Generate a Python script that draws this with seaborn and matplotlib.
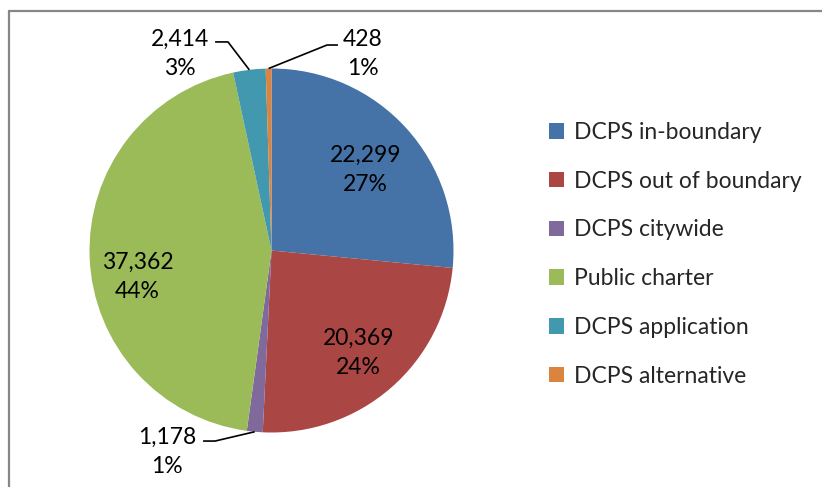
import matplotlib
matplotlib.use("Agg")
import matplotlib.pyplot as plt
from matplotlib.lines import Line2D
from matplotlib.patches import Patch
import numpy as np
import seaborn as sns

# ---- data ----
categories = ["DCPS in-boundary", "DCPS out of boundary", "DCPS citywide",
              "Public charter", "DCPS application", "DCPS alternative"]
values = [22299, 20369, 1178, 37362, 2414, 428]
pct_labels = ["27%", "24%", "1%", "44%", "3%", "1%"]
colors = ["#4572A7", "#AA4643", "#80699B", "#9BBB59", "#4198AF", "#DB843D"]

sns.set_theme(style="white")
plt.rcParams["font.family"] = ["Lato", "DejaVu Sans"]

W, H = 822, 487
fig = plt.figure(figsize=(W / 100, H / 100), dpi=100)
cx, cy, R = 271.5, 250.5, 182
ax = fig.add_axes([(cx - R) / W, (H - cy - R) / H, 2 * R / W, 2 * R / H])

palette = sns.color_palette(colors)
wedges, _ = ax.pie(values, colors=palette, startangle=90, counterclock=False,
                   radius=1.0, wedgeprops=dict(linewidth=0))
ax.set_xlim(-1, 1)
ax.set_ylim(-1, 1)
ax.set_aspect("equal")
ax.axis("off")

FS = 16.5
LS = 1.45
def num(v):
    return f"{v:,}"

# inside labels (radius factor, angle nudge in degrees)
inside = {0: (0.68, -1.5), 1: (0.74, -0.5), 3: (0.75, 9.0)}
for i, (rf, dang) in inside.items():
    w = wedges[i]
    ang = np.deg2rad((w.theta1 + w.theta2) / 2 + dang)
    ax.text(rf * np.cos(ang), rf * np.sin(ang), f"{num(values[i])}\n{pct_labels[i]}",
            ha="center", va="center", fontsize=FS, linespacing=LS, color="black")

# outside labels: text center, elbow, line end
outside = {
    4: ((-0.503, 1.080), (-0.239, 1.146), (-0.310, 1.146)),
    5: ((0.503, 1.080), (0.305, 1.129), (0.365, 1.129)),
    2: ((-0.574, -1.107), (-0.310, -1.047), (-0.376, -1.047)),
}
for i, (tpos, elbow, end) in outside.items():
    w = wedges[i]
    ang = np.deg2rad((w.theta1 + w.theta2) / 2)
    ex, ey = np.cos(ang), np.sin(ang)
    ax.plot([ex, elbow[0], end[0]], [ey, elbow[1], end[1]], color="black", lw=1.2,
            clip_on=False, solid_capstyle="butt")
    ax.text(tpos[0], tpos[1], f"{num(values[i])}\n{pct_labels[i]}", ha="center",
            va="center", fontsize=FS, linespacing=LS, color="black", clip_on=False)

# legend
handles = [Patch(facecolor=c, edgecolor="none") for c in palette]
fig.legend(handles, categories, loc="upper left",
           bbox_to_anchor=(549 / W, 1 - 122 / H), frameon=False, fontsize=FS,
           handlelength=0.65, handleheight=0.65, handletextpad=0.45,
           labelspacing=1.21, borderaxespad=0, borderpad=0)

# outer border (left and top)
fig.add_artist(Line2D([8.5 / W, 8.5 / W], [0, 1 - 11 / H], color="#878787", lw=1.6))
fig.add_artist(Line2D([8.5 / W, 1], [1 - 11 / H, 1 - 11 / H], color="#878787", lw=1.6))

fig.savefig("out.png", dpi=100, facecolor="white")
